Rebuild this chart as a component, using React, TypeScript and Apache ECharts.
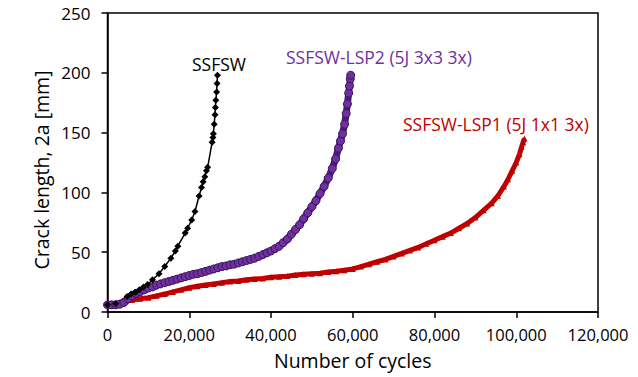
import React, { useEffect, useRef } from "react";
import * as echarts from "echarts";

const xTicks = [0, 20000, 40000, 60000, 80000, 100000, 120000];
const yTicks = [0, 50, 100, 150, 200, 250];

const ssfsw: [number, number][] = [
  [0, 6], [2000, 7], [4800, 13], [5800, 15], [6800, 16.5], [7800, 18.5], [8800, 21], [9800, 23],
  [11000, 27], [12600, 32], [14000, 38], [15500, 45], [16600, 51], [17200, 55], [19000, 66],
  [19600, 70], [20600, 77], [21400, 84], [22400, 97], [23000, 104], [23400, 109], [23800, 113],
  [24200, 118], [24500, 121], [25600, 142], [25800, 146], [25900, 149], [26100, 157],
  [26300, 165], [26400, 171], [26500, 177], [26700, 184], [26800, 191], [26900, 198],
];

const lsp2: [number, number][] = [
  [0, 6], [1000, 6], [2000, 6], [3000, 6.5], [4000, 8], [5000, 11], [6000, 13.5], [7000, 15.5],
  [8000, 17], [9000, 18.5], [10000, 20], [11000, 21], [12000, 22.5], [13000, 23.5], [14000, 24.5],
  [15000, 25.5], [16000, 26.5], [17000, 27.5], [18000, 28.5], [19000, 29.5], [20000, 30.5],
  [21000, 31.5], [22000, 32], [23000, 33], [24000, 34], [25000, 35], [26000, 36], [27000, 37],
  [28000, 38], [29000, 38.5], [30000, 39.5], [31000, 40], [32000, 41], [33000, 42], [34000, 43],
  [35000, 44], [36000, 45], [37000, 46.5], [38000, 48], [39000, 49.5], [40000, 51], [41000, 53],
  [42000, 55], [43000, 58], [44000, 61], [45000, 65], [46000, 69], [47000, 73], [48000, 78],
  [49000, 83], [50000, 88], [51000, 93], [52000, 99], [53000, 105], [54000, 112], [55000, 120],
  [55800, 128], [56500, 137], [57000, 143], [57500, 149], [58000, 157], [58400, 166],
  [58700, 174], [59000, 183], [59200, 189], [59400, 195], [59500, 198],
];

const lsp1: [number, number][] = [
  [0, 6], [1500, 6.5], [3000, 8], [4500, 9], [6000, 10], [8000, 11], [10000, 12], [12000, 13.5],
  [14000, 15], [16000, 16.8], [18000, 18.5], [20000, 20.3], [22000, 21.5], [24000, 22.5],
  [26000, 23.5], [28000, 24.5], [30000, 25.5], [32000, 26], [34000, 27], [36000, 27.5],
  [38000, 28], [40000, 29], [42000, 29.5], [44000, 30], [46000, 31], [48000, 31.5], [50000, 32],
  [52000, 32.5], [54000, 33.5], [56000, 34], [58000, 35], [60000, 36], [62000, 38], [64000, 40],
  [66000, 42], [68000, 44], [70000, 46.5], [72000, 49], [74000, 51.5], [76000, 54], [78000, 57],
  [80000, 60], [82000, 63], [84000, 66], [86000, 70], [88000, 74], [90000, 79], [92000, 85],
  [94000, 91], [95500, 97], [97000, 105], [98000, 111], [99000, 118], [100000, 125],
  [100800, 132], [101300, 138], [101700, 142], [102000, 145],
];

const FONT = "Open Sans";

export default function App() {
  const ref = useRef<HTMLDivElement>(null);
  useEffect(() => {
    if (!ref.current) return;
    const chart = echarts.init(ref.current, null, { renderer: "svg" });
    chart.setOption({
      animation: false,
      backgroundColor: "#fff",
      grid: {
        left: 107.5, right: 40, top: 13, bottom: 65,
        show: true, borderColor: "#000", borderWidth: 1.5, backgroundColor: "transparent",
      },
      xAxis: {
        type: "value", min: xTicks[0], max: xTicks[xTicks.length - 1], interval: 20000,
        name: "Number of cycles", nameLocation: "middle", nameGap: 38,
        nameTextStyle: { fontFamily: FONT, fontSize: 19.5, color: "#000" },
        axisLine: { show: true, lineStyle: { color: "#000", width: 1.5 } },
        axisTick: { show: true, inside: false, length: 6, lineStyle: { color: "#000", width: 1.5 } },
        splitLine: { show: false },
        axisLabel: {
          fontFamily: FONT, fontSize: 16.5, color: "#000", margin: 14,
          formatter: (v: number) => v.toLocaleString("en-US"),
        },
      },
      yAxis: {
        type: "value", min: yTicks[0], max: yTicks[yTicks.length - 1], interval: 50,
        axisLine: { show: true, lineStyle: { color: "#000", width: 1.5 } },
        axisTick: { show: true, inside: false, length: 6, lineStyle: { color: "#000", width: 1.5 } },
        splitLine: { show: false },
        axisLabel: { fontFamily: FONT, fontSize: 17, color: "#000", margin: 17 },
      },
      series: [
        {
          name: "SSFSW-LSP1 (5J 1x1 3x)", type: "line", data: lsp1,
          symbol: "triangle", symbolSize: 6,
          lineStyle: { color: "#C00000", width: 5 },
          itemStyle: { color: "#C00000" },
        },
        {
          name: "SSFSW-LSP2 (5J 3x3 3x)", type: "line", data: lsp2,
          symbol: "circle", symbolSize: 8,
          lineStyle: { color: "#4A1E72", width: 7 },
          itemStyle: { color: "#7030A0", borderColor: "#3A145E", borderWidth: 1 },
        },
        {
          name: "SSFSW", type: "line", data: ssfsw,
          symbol: "diamond", symbolSize: 7,
          lineStyle: { color: "#000", width: 1.5 },
          itemStyle: { color: "#000" },
        },
      ],
      graphic: [
        {
          type: "text", x: 41.5, y: 170, rotation: Math.PI / 2,
          style: {
            text: "Crack length, 2a [mm]", fontFamily: FONT, fontSize: 19.5, fill: "#000",
            align: "center", verticalAlign: "middle",
          },
        },
        { type: "text", left: 192, top: 55, style: { text: "SSFSW", fontFamily: FONT, fontSize: 17.5, fill: "#000" } },
        { type: "text", left: 286, top: 48, style: { text: "SSFSW-LSP2 (5J 3x3 3x)", fontFamily: FONT, fontSize: 17.5, fill: "#7030A0" } },
        { type: "text", left: 403, top: 115, style: { text: "SSFSW-LSP1 (5J 1x1 3x)", fontFamily: FONT, fontSize: 17.5, fill: "#C00000" } },
      ],
    });
    return () => chart.dispose();
  }, []);
  return (
    <div
      ref={ref}
      style={{ position: "fixed", left: 0, top: 0, width: 638, height: 377 }}
    />
  );
}
